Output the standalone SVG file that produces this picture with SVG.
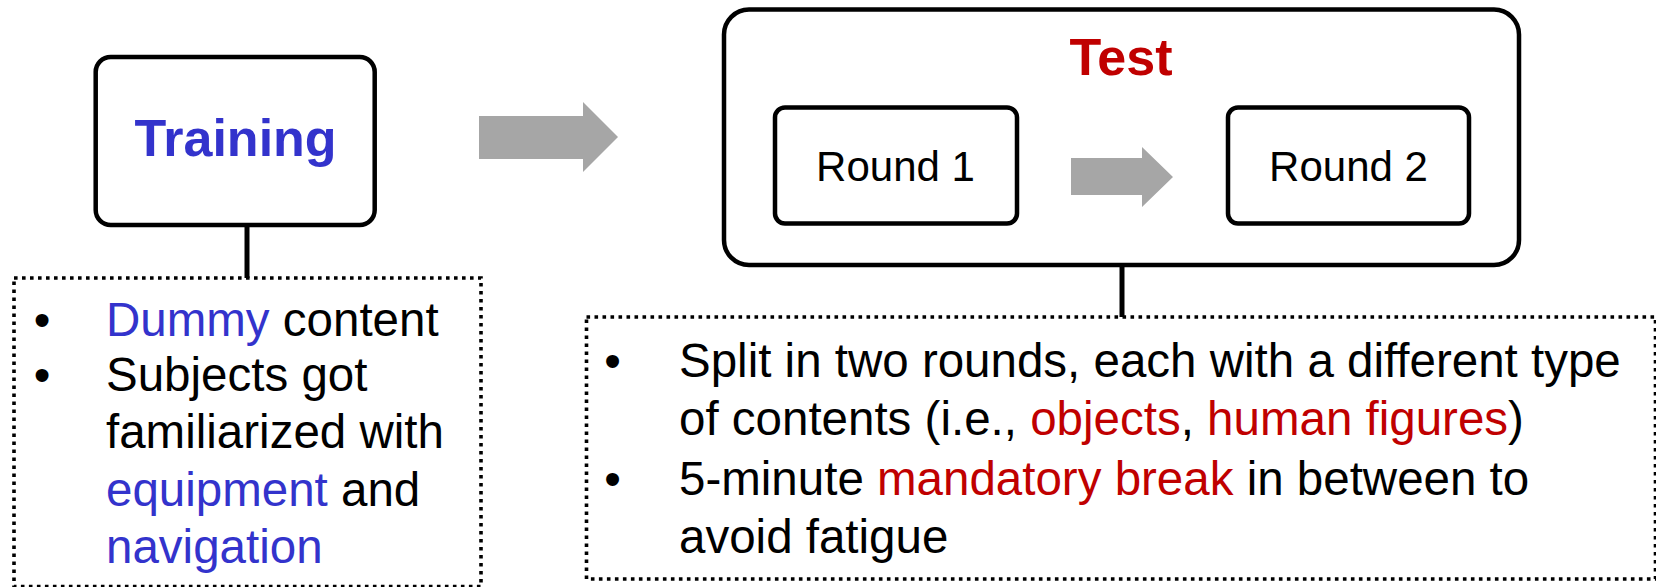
<svg xmlns="http://www.w3.org/2000/svg" width="1656" height="587" viewBox="0 0 1656 587">
  <style>
    .box { fill: #ffffff; stroke: #000000; stroke-width: 4.5; }
    .note { fill: none; stroke: #000000; stroke-width: 3.6; stroke-dasharray: 3.6 4.4; }
    .link { stroke: #000000; stroke-width: 5; fill: none; }
    .flow { fill: #A6A6A6; stroke: none; }
    .title { font-family: "Liberation Sans", Arial, sans-serif; font-weight: bold; font-size: 52px; text-anchor: middle; }
    .label { font-family: "Liberation Sans", Arial, sans-serif; font-size: 42px; text-anchor: middle; fill: #000000; }
    .body { font-family: "Liberation Sans", Arial, sans-serif; font-size: 47.5px; fill: #000000; }
    .bullet { font-family: "Liberation Sans", Arial, sans-serif; font-size: 47.5px; fill: #000000; text-anchor: middle; }
    .blue { fill: #3333CC; }
    .red { fill: #C00000; }
  </style>

  <!-- training phase -->
  <g id="training">
    <rect class="box" x="95.7" y="57" width="279" height="168" rx="15"/>
    <text class="title blue" x="235.5" y="156">Training</text>
  </g>

  <g id="training-notes">
    <rect class="note" x="14" y="278" width="467" height="308.5"/>
    <text class="bullet" x="42" y="336">•</text>
    <text class="bullet" x="42" y="391">•</text>
    <text class="body" x="106" y="336"><tspan class="blue">Dummy</tspan> content</text>
    <text class="body" x="106" y="391">Subjects got</text>
    <text class="body" x="106" y="448">familiarized with</text>
    <text class="body" x="106" y="506"><tspan class="blue">equipment</tspan> and</text>
    <text class="body" x="106" y="563"><tspan class="blue">navigation</tspan></text>
  </g>

  <!-- test phase with its two rounds -->
  <g id="test">
    <rect class="box" x="724" y="9.5" width="795" height="255.5" rx="25"/>
    <text class="title red" x="1121" y="75">Test</text>
  </g>

  <g id="round1">
    <rect class="box" x="775" y="107.5" width="242" height="116" rx="10"/>
    <text class="label" x="895.5" y="181">Round 1</text>
  </g>

  <g id="round2">
    <rect class="box" x="1228" y="107.5" width="241" height="116" rx="10"/>
    <text class="label" x="1348.5" y="181">Round 2</text>
  </g>

  <g id="test-notes">
    <rect class="note" x="586.5" y="317" width="1069" height="262"/>
    <text class="bullet" x="612.5" y="377">•</text>
    <text class="bullet" x="612.5" y="494.5">•</text>
    <text class="body" x="679" y="377">Split in two rounds, each with a different type</text>
    <text class="body" x="679" y="435">of contents (i.e., <tspan class="red">objects</tspan>, <tspan class="red">human figures</tspan>)</text>
    <text class="body" x="679" y="494.5">5-minute <tspan class="red">mandatory break</tspan> in between to</text>
    <text class="body" x="679" y="553">avoid fatigue</text>
  </g>

  <!-- connectors: stems from boxes to their notes, and flow arrows (drawn last, on top) -->
  <g id="connectors">
    <line class="link" x1="247" y1="225" x2="247" y2="278"/>
    <line class="link" x1="1122" y1="265" x2="1122" y2="317"/>
    <polygon class="flow" points="479,116 583,116 583,102 618,137 583,172 583,159 479,159"/>
    <polygon class="flow" points="1071,158 1142,158 1142,147 1173,177 1142,207 1142,195 1071,195"/>
  </g>
</svg>
